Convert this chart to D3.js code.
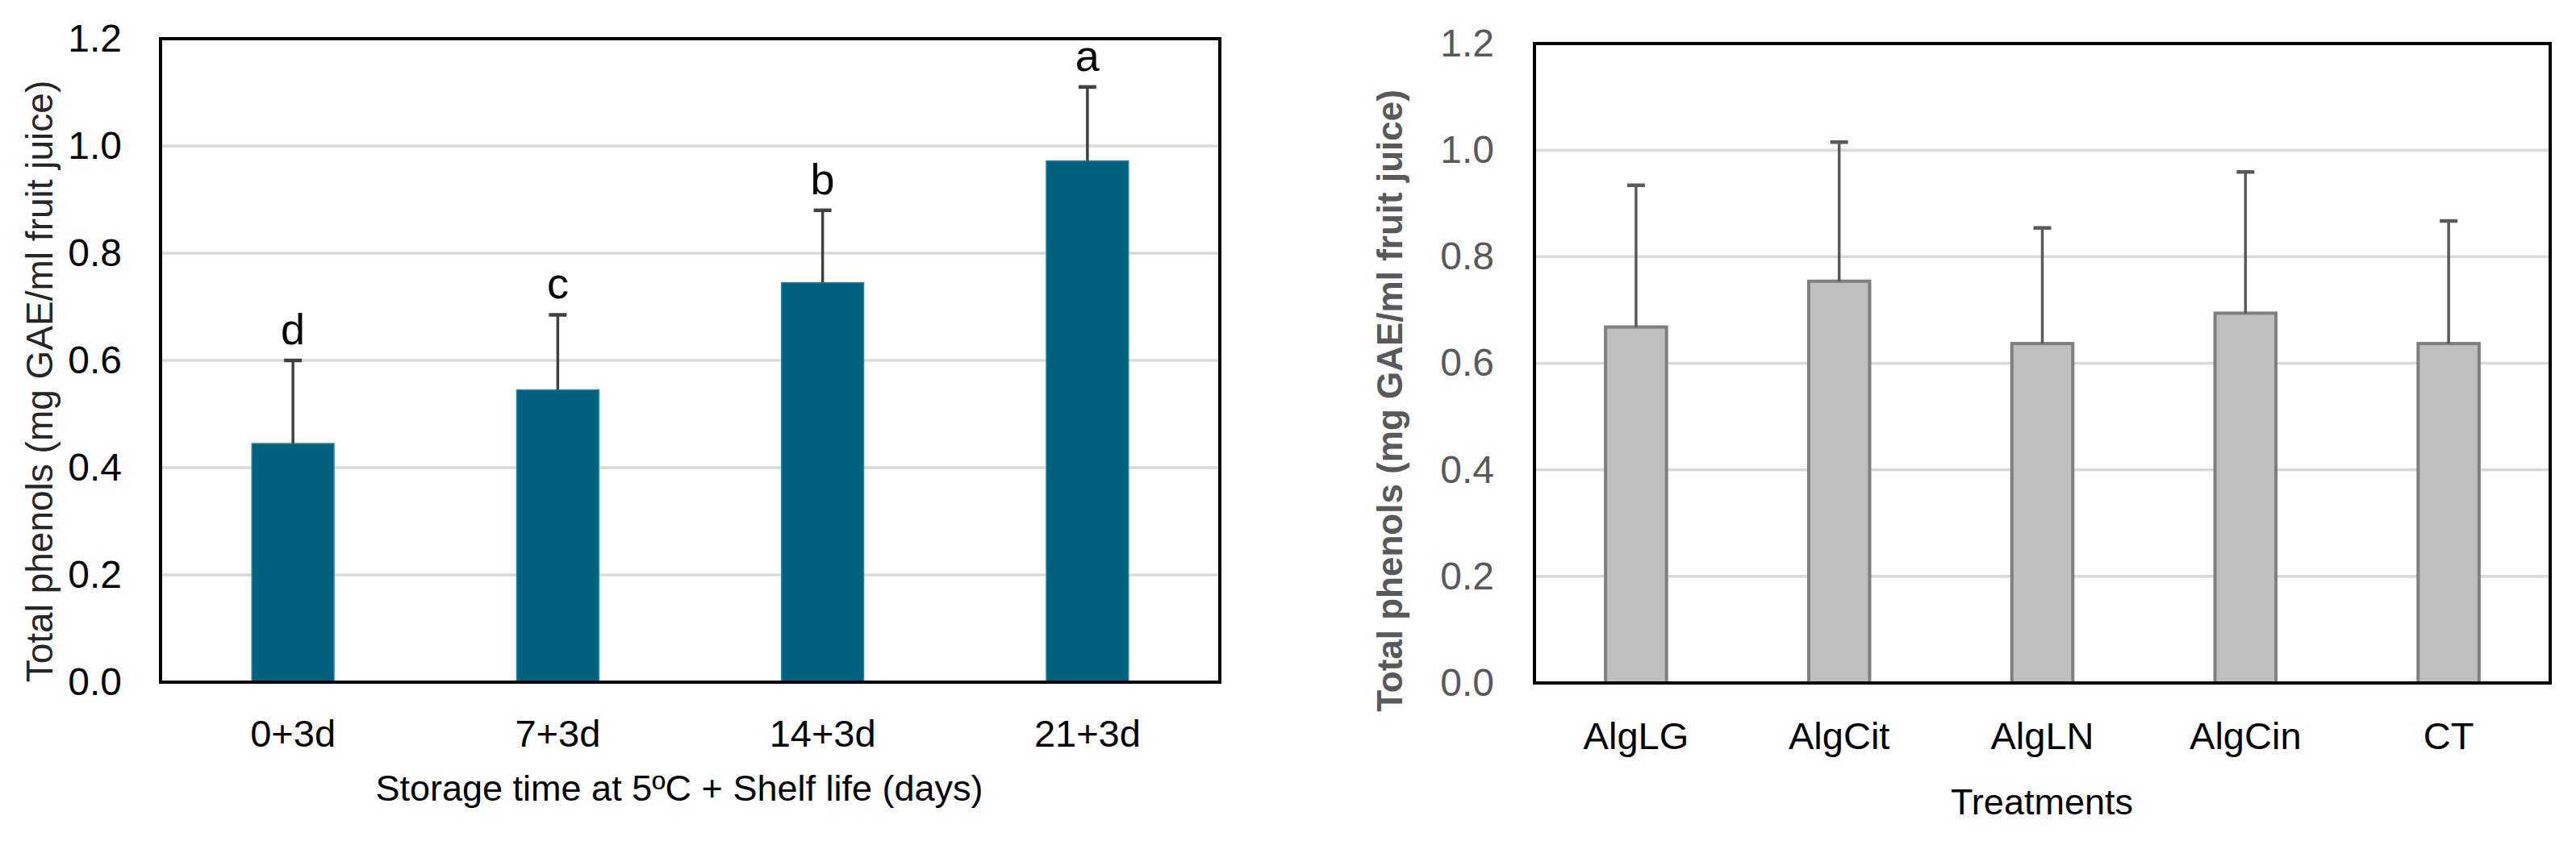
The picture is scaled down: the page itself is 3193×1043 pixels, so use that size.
<!DOCTYPE html>
<html>
<head>
<meta charset="utf-8">
<script src="https://cdn.jsdelivr.net/npm/d3@7"></script>
<style>
  html, body { margin: 0; padding: 0; background: #fff; }
  svg { display: block; font-family: 'Liberation Sans', Arial, sans-serif; }
</style>
</head>
<body>
<svg class="canvas" width="3193" height="1043"></svg>
<script>
// data
const storageDays = ['0+3d', '7+3d', '14+3d', '21+3d'];
const storageMeans = [0.445, 0.545, 0.745, 0.972];
const storageErrors = [0.155, 0.14, 0.135, 0.138];
const storageLetters = ['d', 'c', 'b', 'a'];

const treatments = ['AlgLG', 'AlgCit', 'AlgLN', 'AlgCin', 'CT'];
const treatmentMeans = [0.668, 0.754, 0.637, 0.694, 0.637];
const treatmentErrors = [0.266, 0.261, 0.217, 0.265, 0.23];

const yTicks = [0, 0.2, 0.4, 0.6, 0.8, 1.0, 1.2];
const yTitle = 'Total phenols (mg GAE/ml fruit juice)';

const svg = d3.select('.canvas');
svg.append('rect').attr('width', 3193).attr('height', 1043).attr('fill', '#fff');

function drawPanel(p) {
    const g = svg.append('g');
    const x = d3.scaleBand()
        .domain(p.cats)
        .range([p.left, p.right])
        .paddingInner(p.pad)
        .paddingOuter(p.pad / 2);
    const y = d3.scaleLinear().domain([0, 1.2]).range([p.bottom, p.top]);

    // horizontal gridlines
    g.append('g')
        .selectAll('line')
        .data(yTicks.filter((t) => t > 0 && t < 1.2))
        .enter()
        .append('line')
        .attr('x1', p.left)
        .attr('x2', p.right)
        .attr('y1', (d) => y(d))
        .attr('y2', (d) => y(d))
        .attr('stroke', '#d9d9d9')
        .attr('stroke-width', 3.5);

    // bars
    const data = p.cats.map((c, i) => ({ cat: c, mean: p.means[i], err: p.errs[i], letter: p.letters ? p.letters[i] : null }));
    g.selectAll('.bar')
        .data(data)
        .enter()
        .append('rect')
        .attr('class', 'bar')
        .attr('x', (d) => x(d.cat))
        .attr('y', (d) => y(d.mean))
        .attr('width', x.bandwidth())
        .attr('height', (d) => y(0) - y(d.mean))
        .attr('fill', p.fill)
        .attr('stroke', p.stroke)
        .attr('stroke-width', p.strokeWidth);

    // error bars (upper only)
    const cx = (d) => x(d.cat) + x.bandwidth() / 2;
    g.selectAll('.err')
        .data(data)
        .enter()
        .append('line')
        .attr('x1', cx)
        .attr('x2', cx)
        .attr('y1', (d) => y(d.mean))
        .attr('y2', (d) => y(d.mean + d.err))
        .attr('stroke', p.errColor)
        .attr('stroke-width', 3.5);
    g.selectAll('.cap')
        .data(data)
        .enter()
        .append('line')
        .attr('x1', (d) => cx(d) - 11)
        .attr('x2', (d) => cx(d) + 11)
        .attr('y1', (d) => y(d.mean + d.err))
        .attr('y2', (d) => y(d.mean + d.err))
        .attr('stroke', p.errColor)
        .attr('stroke-width', 4.5);

    // significance letters
    if (p.letters) {
        g.selectAll('.letter')
            .data(data)
            .enter()
            .append('text')
            .attr('x', cx)
            .attr('y', (d) => y(d.mean + d.err) - 20)
            .attr('text-anchor', 'middle')
            .style('font-size', '54px')
            .attr('fill', '#000')
            .text((d) => d.letter);
    }

    // axes
    const yAxis = g.append('g')
        .attr('transform', `translate(${p.left}, 0)`)
        .call(d3.axisLeft(y).tickValues(yTicks).tickSize(0).tickPadding(p.yPad).tickFormat(d3.format('.1f')));
    yAxis.select('.domain').remove();
    yAxis.selectAll('text')
        .attr('font-family', null)
        .style('font-size', '48px')
        .attr('fill', p.tickColor);
    yAxis.attr('font-family', null).attr('font-size', null);

    const xAxis = g.append('g')
        .attr('transform', `translate(0, ${p.bottom})`)
        .call(d3.axisBottom(x).tickSize(0).tickPadding(p.xPad));
    xAxis.select('.domain').remove();
    xAxis.attr('font-family', null).attr('font-size', null);
    xAxis.selectAll('text')
        .style('font-size', '47px')
        .attr('fill', '#000');

    // frame
    g.append('rect')
        .attr('x', p.left)
        .attr('y', p.top)
        .attr('width', p.right - p.left)
        .attr('height', p.bottom - p.top)
        .attr('fill', 'none')
        .attr('stroke', '#000')
        .attr('stroke-width', 4);

    // titles
    g.append('text')
        .attr('transform', `translate(${p.yTitleX}, ${p.yTitleY}) rotate(-90)`)
        .attr('text-anchor', 'middle')
        .style('font-size', p.yTitleSize)
        .style('font-weight', p.yTitleWeight)
        .attr('fill', p.yTitleColor)
        .text(yTitle);
    g.append('text')
        .attr('x', p.xTitleX)
        .attr('y', p.xTitleY)
        .attr('text-anchor', 'middle')
        .style('font-size', '45px')
        .attr('fill', '#000')
        .text(p.xTitle);
}

drawPanel({
    cats: storageDays, means: storageMeans, errs: storageErrors, letters: storageLetters,
    left: 199, right: 1512, top: 48, bottom: 846, pad: 0.69,
    fill: '#02607f', stroke: '#1a86ad', strokeWidth: 1.5, errColor: '#404040',
    tickColor: '#000', yPad: 48, xPad: 47,
    yTitleX: 65, yTitleY: 473, yTitleSize: '46px', yTitleWeight: 'normal', yTitleColor: '#262626',
    xTitle: 'Storage time at 5ºC + Shelf life (days)', xTitleX: 842, xTitleY: 993
});

drawPanel({
    cats: treatments, means: treatmentMeans, errs: treatmentErrors, letters: null,
    left: 1902, right: 3161, top: 54, bottom: 847, pad: 0.7,
    fill: '#bfbfbf', stroke: '#7f7f7f', strokeWidth: 4, errColor: '#595959',
    tickColor: '#595959', yPad: 50, xPad: 49,
    yTitleX: 1738, yTitleY: 497, yTitleSize: '44px', yTitleWeight: 'bold', yTitleColor: '#595959',
    xTitle: 'Treatments', xTitleX: 2531, xTitleY: 1010
});
</script>
</body>
</html>
